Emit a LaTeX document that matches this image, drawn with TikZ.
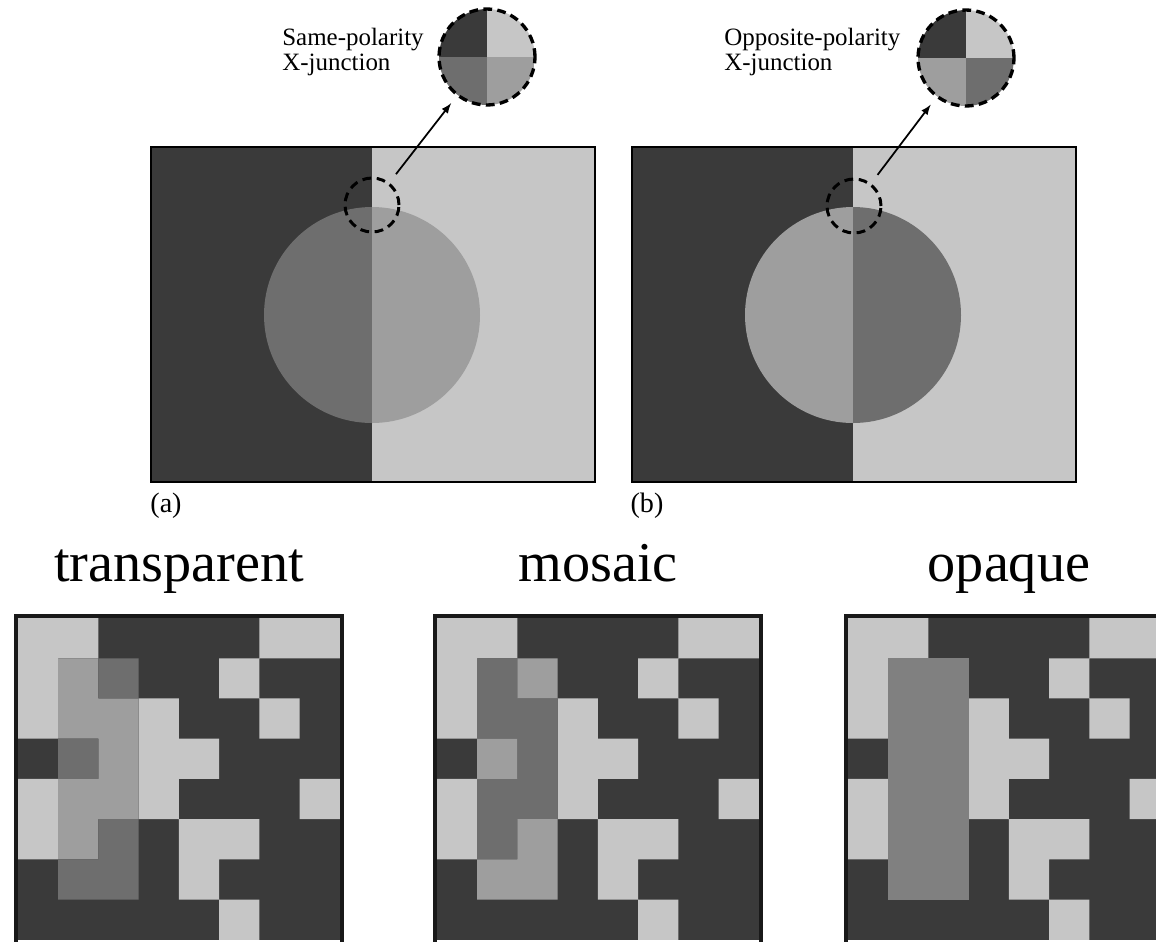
\documentclass[tikz,border=0pt]{standalone}
\usepackage{fontspec}
\setmainfont{Liberation Serif}

\definecolor{cdark}{RGB}{58,58,58}
\definecolor{clight}{RGB}{198,198,198}
\definecolor{cmdark}{RGB}{110,110,110}
\definecolor{cmlight}{RGB}{158,158,158}
\definecolor{copaque}{RGB}{128,128,128}

\tikzset{
    spot/.style={circle, draw, line width=1.7pt, dash pattern=on 5pt off 3.2pt,
        minimum size=1.08cm, inner sep=0pt},
    lens/.style n args={4}{circle, draw, line width=1.9pt, dash pattern=on 5pt off 3pt,
        minimum size=1.92cm, inner sep=0pt,
        path picture={
            \fill[#1] (path picture bounding box.center) rectangle (path picture bounding box.north west);
            \fill[#2] (path picture bounding box.center) rectangle (path picture bounding box.north east);
            \fill[#3] (path picture bounding box.center) rectangle (path picture bounding box.south west);
            \fill[#4] (path picture bounding box.center) rectangle (path picture bounding box.south east);
        }},
    pointer/.style={->, >=latex, line width=1pt, shorten <=6pt, shorten >=5pt},
    note/.style={font=\fontsize{14.2}{14.2}\selectfont, align=left, anchor=north west, inner sep=0pt},
    tag/.style={font=\fontsize{16}{16}\selectfont, inner sep=0pt},
    heading/.style={font=\fontsize{32}{32}\selectfont, anchor=base, inner sep=0pt},
    frame/.style={draw=black, line width=1.1pt},
    gridframe/.style={draw=black!90, line width=2pt},
}

% half-split background with a two-tone disc
\newcommand{\xpanel}[2]{%
    \fill[cdark] (0,0) rectangle (221,335);
    \fill[clight] (221,0) rectangle (444,335);
    \begin{scope}
        \clip (0,0) rectangle (221,335);
        \fill[#1] (221,168) circle[radius=108];
    \end{scope}
    \begin{scope}
        \clip (221,0) rectangle (444,335);
        \fill[#2] (221,168) circle[radius=108];
    \end{scope}
    \draw[frame] (0,0) rectangle (444,335);
}

% tiles shared by the three grids
\newcommand{\tilesbase}{%
    \draw[gridframe] (-0.045,-0.055) rectangle (8.045,8.1);
    \fill[cdark] (0,0) rectangle (8,8);
    \fill[clight] \foreach \c/\r in {0/0,1/0,6/0,7/0,0/1,5/1,0/2,3/2,6/2,3/3,4/3,
        0/4,3/4,7/4,0/5,4/5,5/5,4/6,5/7} {(\c,\r) rectangle ++(1,1)};
}
% #1 first set, #2 second set
\newcommand{\tilesmid}[2]{%
    \fill[#1] \foreach \c/\r in {1/1,1/2,2/2,2/3,1/4,2/4,1/5} {(\c,\r) rectangle ++(1,1)};
    \fill[#2] \foreach \c/\r in {2/1,1/3,2/5,1/6,2/6} {(\c,\r) rectangle ++(1,1)};
}

\begin{document}
\begin{tikzpicture}[x=0.02cm, y=-0.02cm]
    \useasboundingbox (0,0) rectangle (1156,941);
    \clip (0,0) rectangle (1156,941);

    % (a) same polarity
    \begin{scope}[shift={(151,147)}]
        \xpanel{cmdark}{cmlight}
        \node[spot] (spotA) at (221,58) {};
    \end{scope}
    \node[lens={cdark}{clight}{cmdark}{cmlight}] (lensA) at (487,57) {};
    \draw[pointer] (spotA) -- (lensA);
    \node[note] (noteA) at (282,28) {Same-polarity\\X-junction};
    \node[tag] (labA) at (166,506) {(a)};

    % (b) opposite polarity
    \begin{scope}[shift={(632,147)}]
        \xpanel{cmlight}{cmdark}
        \node[spot] (spotB) at (222,59) {};
    \end{scope}
    \node[lens={cdark}{clight}{cmlight}{cmdark}] (lensB) at (966,58) {};
    \draw[pointer] (spotB) -- (lensB);
    \node[note] (noteB) at (724,28) {Opposite-polarity\\X-junction};
    \node[tag] (labB) at (647,506) {(b)};

    % transparent
    \begin{scope}[shift={(18,618)}, x=0.805cm, y=-0.805cm]
        \tilesbase
        \tilesmid{cmlight}{cmdark}
        \node[heading] (headT) at (4,-0.9) {transparent};
    \end{scope}

    % mosaic
    \begin{scope}[shift={(437,618)}, x=0.805cm, y=-0.805cm]
        \tilesbase
        \tilesmid{cmdark}{cmlight}
        \node[heading] (headM) at (4,-0.9) {mosaic};
    \end{scope}

    % opaque
    \begin{scope}[shift={(848,618)}, x=0.805cm, y=-0.805cm]
        \tilesbase
        \fill[copaque] (1,1) rectangle (3,7);
        \node[heading] (headO) at (4,-0.9) {opaque};
    \end{scope}
\end{tikzpicture}
\end{document}
